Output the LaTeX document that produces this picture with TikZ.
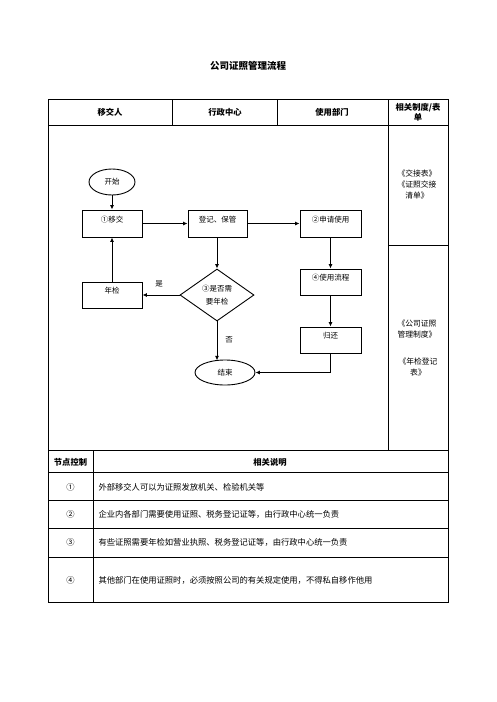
\documentclass[tikz,border=0pt]{standalone}
\usepackage{fontspec}
\setmainfont{Noto Sans CJK SC}
\usetikzlibrary{shapes.geometric,arrows.meta}
\begin{document}
\begin{tikzpicture}[x=1pt,y=-1pt,
  tline/.style={line width=0.8pt},
  flow/.style={draw,line width=0.9pt,font=\fontsize{7.5}{9}\selectfont,inner sep=0pt},
  boxn/.style={flow,rectangle,minimum width=60pt,minimum height=27pt,text height=6pt,text depth=9pt},
  arr/.style={line width=0.9pt,-{Latex[length=4.5pt,width=4pt]}},
  hdr/.style={font=\bfseries\fontsize{8.3}{10}\selectfont,align=center},
  txt/.style={font=\fontsize{8.3}{10}\selectfont},
  side/.style={font=\fontsize{7.8}{11}\selectfont,align=center}]
\useasboundingbox (0,0) rectangle (496,702);
\fill[white] (0,0) rectangle (496,702);
% title
\node[font=\bfseries\fontsize{9.5}{11}\selectfont] (title) at (248,66) {公司证照管理流程};
% upper table
\draw[tline] (48,99) rectangle (448,450);
\draw[tline] (48,125) -- (448,125);
\draw[tline] (172,99) -- (172,125);
\draw[tline] (277,99) -- (277,125);
\draw[tline] (388,99) -- (388,450);
\draw[tline] (388,245) -- (448,245);
\node[hdr] (h1) at (110,112) {移交人};
\node[hdr] (h2) at (225,112) {行政中心};
\node[hdr] (h3) at (332,112) {使用部门};
\node[hdr] (h4) at (418,112) {相关制度/表\\单};
\node[side] (s1) at (417,185) {《交接表》\\《证照交接\\清单》};
\node[side] (s2) at (417,329) {《公司证照\\管理制度》};
\node[side] (s3) at (418,367) {《年检登记\\表》};
% flow
\node[flow,ellipse,minimum width=46pt,minimum height=26pt] (start) at (112,182) {开始};
\node[boxn] (yj) at (112,223.5) {①移交};
\node[boxn,minimum width=59pt] (dj) at (217.5,223.5) {登记、保管};
\node[boxn,minimum width=61pt] (sq) at (330.5,223.5) {②申请使用};
\node[boxn,minimum width=61pt,minimum height=26pt] (sy) at (330.5,282) {④使用流程};
\node[boxn,minimum width=61pt,minimum height=26pt] (gh) at (330.5,340) {归还};
\node[boxn,minimum height=26pt] (nj) at (112,295) {年检};
\node[flow,diamond,minimum width=74pt,minimum height=52pt,align=center,font=\fontsize{7.5}{13}\selectfont] (dia) at (217,295) {③是否需\\要年检};
\node[flow,ellipse,minimum width=60pt,minimum height=25pt] (end) at (225,372.5) {结束};
\draw[arr] (start) -- (yj);
\draw[arr] (yj) -- (dj);
\draw[arr] (dj) -- (sq);
\draw[arr] (dj.south -| dia.north) -- (dia.north);
\draw[arr] (sq) -- (sy);
\draw[arr] (sy) -- (gh);
\draw[arr] (dia.west) -- (nj.east);
\draw[arr] (nj) -- (yj);
\draw[arr] (dia.south) -- ++(0,39);
\draw[arr] (gh.south) |- (end.east);
\node[font=\fontsize{7.5}{9}\selectfont] (yes) at (159,284) {是};
\node[font=\fontsize{7.5}{9}\selectfont] (no) at (229,340) {否};
% lower table
\draw[tline] (48,450) rectangle (448,602);
\draw[tline] (48,472) -- (448,472);
\draw[tline] (48,500) -- (448,500);
\draw[tline] (48,528) -- (448,528);
\draw[tline] (48,557) -- (448,557);
\draw[tline] (93,450) -- (93,602);
\node[hdr] (c1) at (70.5,462) {节点控制};
\node[hdr] (c2) at (270,462) {相关说明};
\node[txt] (n1) at (70.5,487) {①};
\node[txt] (n2) at (70.5,514) {②};
\node[txt] (n3) at (70.5,542) {③};
\node[txt] (n4) at (70.5,580) {④};
\node[txt,anchor=west] (t1) at (95,487) {外部移交人可以为证照发放机关、检验机关等};
\node[txt,anchor=west] (t2) at (95,514) {企业内各部门需要使用证照、税务登记证等，由行政中心统一负责};
\node[txt,anchor=west] (t3) at (95,542) {有些证照需要年检如营业执照、税务登记证等，由行政中心统一负责};
\node[txt,anchor=west] (t4) at (95,580) {其他部门在使用证照时，必须按照公司的有关规定使用，不得私自移作他用};
\end{tikzpicture}
\end{document}
